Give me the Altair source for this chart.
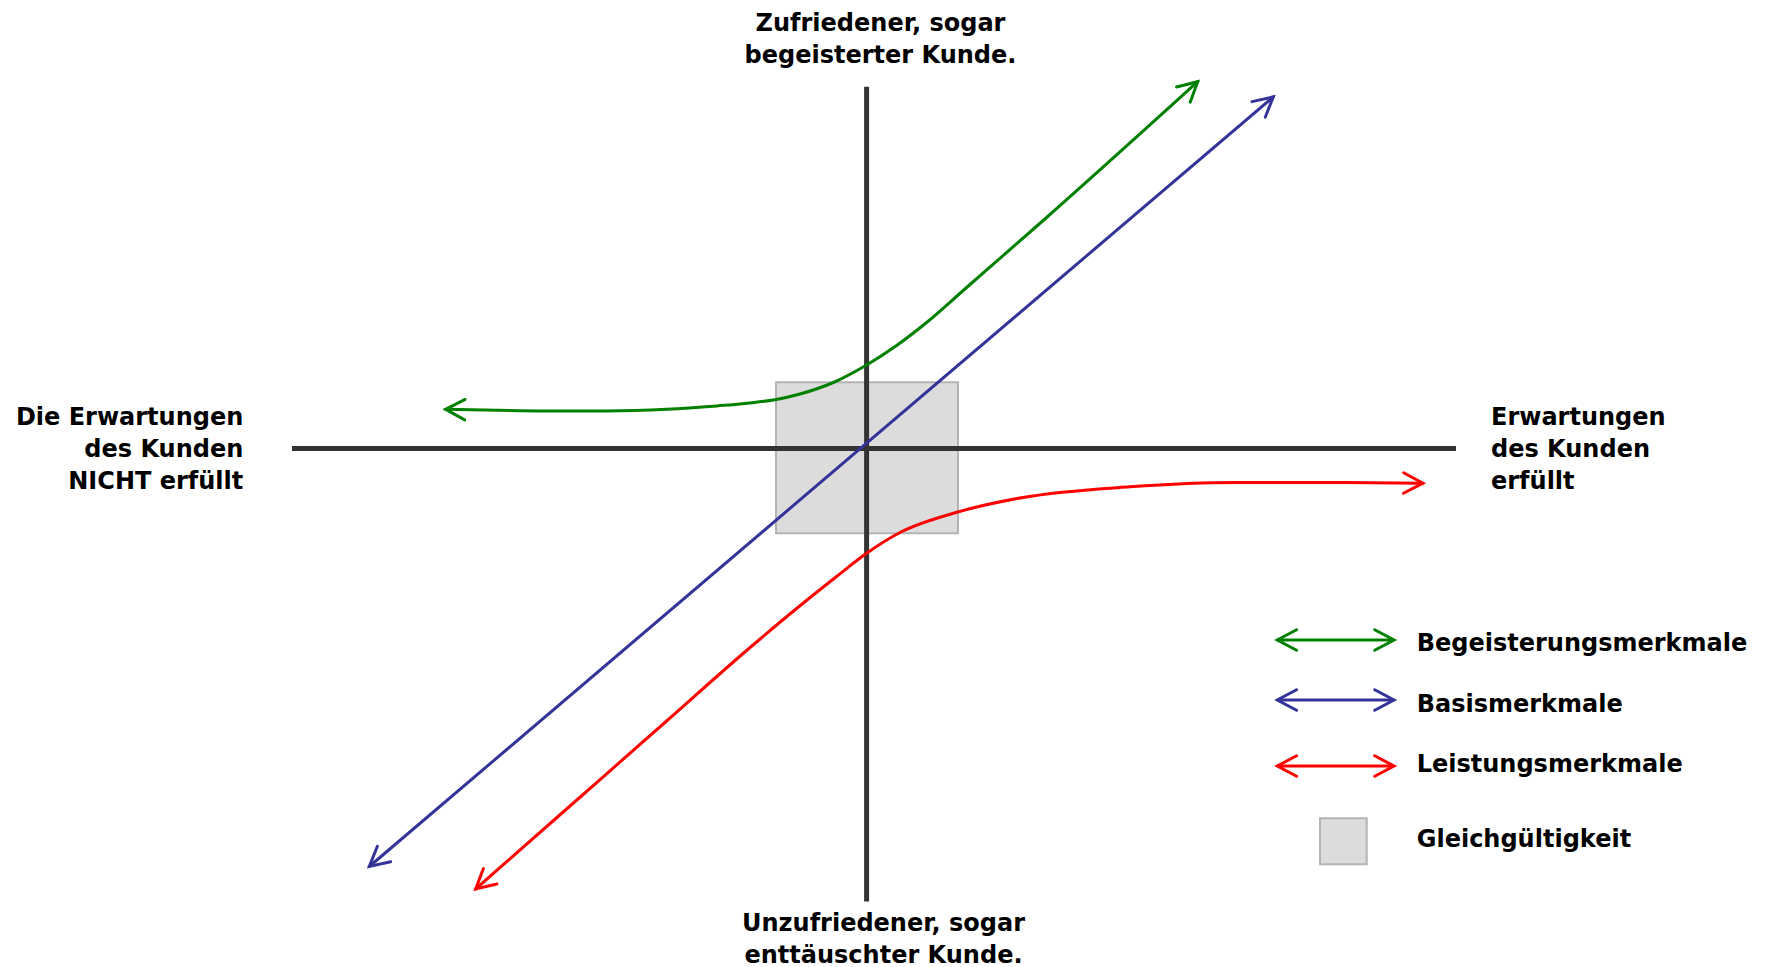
import math
import altair as alt
import pandas as pd

# ---------------- data (units: distance from the axis crossing) ----------------
series = ["Begeisterungsmerkmale", "Basismerkmale", "Leistungsmerkmale"]
series_colors = ["#008000", "#333399", "#ff0000"]

green_x = [-421.0, -380.0, -320.0, -260.0, -200.0, -150.0, -116.6, -91.6, -66.6, -33.3, 0.0, 30.0, 60.0, 100.0, 180.0, 331.1]
green_y = [39.2, 38.4, 37.6, 37.6, 39.2, 42.6, 45.6, 48.8, 54.5, 66.0, 83.5, 103.0, 126.0, 161.0, 231.0, 366.8]

blue_x = [-497.3, 406.7]
blue_y = [-418.0, 351.6]

red_x = [-390.9, -300.0, -200.0, -120.0, -70.0, -30.0, 0.0, 33.4, 92.0, 156.3, 263.4, 370.5, 477.7, 556.3]
red_y = [-440.5, -360.5, -272.5, -202.0, -160.0, -128.0, -104.8, -84.0, -63.3, -49.0, -38.3, -34.0, -34.0, -34.7]

# axes (cross) and indifference zone
axis_x = [-574.6, 0.0]
axis_y = [0.0, 361.7]
axis_x2 = [589.4, 0.0]
axis_y2 = [0.0, -453.0]
zone_x = [-90.6, 91.4]
zone_y = [66.2, -84.8]

label_top = "Zufriedener, sogar\nbegeisterter Kunde."
label_bottom = "Unzufriedener, sogar\nenttäuschter Kunde."
label_left = "Die Erwartungen\ndes Kunden\nNICHT erfüllt"
label_right = "Erwartungen\ndes Kunden\nerfüllt"
legend_zone_label = "Gleichgültigkeit"

# ---------------- layout ----------------
W, H = 1751, 959
CX, CY = 858.6, 440.5
xs = alt.Scale(domain=[-CX, W - CX], nice=False, zero=False)
ys = alt.Scale(domain=[-(H - CY), CY], nice=False, zero=False)
FONT = "DejaVu Sans"
FS = 24
LH = 32
CHEVRON = "M -1 -0.53 L 0 0 L -1 0.53"
HEAD_SIZE = 1490

POS = {
    "top": (13.9, 417.2),
    "bottom": (16.9, -482.0),
    "left": (-623.3, 23.5),
    "right": (624.4, 23.5),
}
LEG_X0, LEG_X1, LEG_TX = 410.7, 527.4, 550.1
LEG_ROWS = [-191.5, -251.5, -317.5]
LEG_TEXT = [-202.2, -263.2, -323.2]
LEG_SQ = (453.4, 500.1, -369.8, -415.8)
LEG_SQ_TEXT = -398.8

# ---------------- tables ----------------
curve_data = [(series[0], green_x, green_y), (series[1], blue_x, blue_y), (series[2], red_x, red_y)]
rows = []
heads = []


def ang(x0, y0, x1, y1):
    return math.degrees(math.atan2(-(y1 - y0), x1 - x0)) % 360


for name, xv, yv in curve_data:
    for i, (a, b) in enumerate(zip(xv, yv)):
        rows.append({"series": name, "order": i, "x": a, "y": b})
    heads.append({"series": name, "x": xv[0], "y": yv[0], "angle": ang(xv[1], yv[1], xv[0], yv[0])})
    heads.append({"series": name, "x": xv[-1], "y": yv[-1], "angle": ang(xv[-2], yv[-2], xv[-1], yv[-1])})

curves = pd.DataFrame(rows)

leg_rows = []
for name, ry, ty in zip(series, LEG_ROWS, LEG_TEXT):
    leg_rows.append({"series": name, "x": LEG_X0, "x2": LEG_X1, "y": ry})
    heads.append({"series": name, "x": LEG_X0, "y": ry, "angle": 180.0})
    heads.append({"series": name, "x": LEG_X1, "y": ry, "angle": 0.0})
legend_df = pd.DataFrame(leg_rows)
heads_df = pd.DataFrame(heads)

axes_df = pd.DataFrame({"x": axis_x, "y": axis_y, "x2": axis_x2, "y2": axis_y2})
zone_df = pd.DataFrame({
    "x": [zone_x[0], LEG_SQ[0]], "x2": [zone_x[1], LEG_SQ[1]],
    "y": [zone_y[0], LEG_SQ[2]], "y2": [zone_y[1], LEG_SQ[3]],
})

center_txt = pd.DataFrame({
    "t": [label_top, label_bottom],
    "x": [POS["top"][0], POS["bottom"][0]],
    "y": [POS["top"][1], POS["bottom"][1]],
})
right_txt = pd.DataFrame({"t": [label_left], "x": [POS["left"][0]], "y": [POS["left"][1]]})
left_txt = pd.DataFrame({
    "t": [label_right] + series + [legend_zone_label],
    "x": [POS["right"][0]] + [LEG_TX] * 3 + [LEG_TX],
    "y": [POS["right"][1]] + LEG_TEXT + [LEG_SQ_TEXT],
})

color = alt.Color("series:N", scale=alt.Scale(domain=series, range=series_colors), legend=None)
X = lambda f="x": alt.X(f"{f}:Q", scale=xs, axis=None)
Y = lambda f="y": alt.Y(f"{f}:Q", scale=ys, axis=None)

zone = alt.Chart(zone_df).mark_rect(fill="#dcdcdc", stroke="#b4b4b4", strokeWidth=2).encode(
    x=X(), x2="x2:Q", y=Y(), y2="y2:Q")

axes = alt.Chart(axes_df).mark_rule(color="#333333", strokeWidth=5).encode(
    x=X(), x2="x2:Q", y=Y(), y2="y2:Q")

lines = alt.Chart(curves).mark_line(interpolate="monotone", strokeWidth=3, strokeCap="round").encode(
    x=X(), y=Y(), color=color, order="order:Q", detail="series:N")

leg_lines = alt.Chart(legend_df).mark_rule(strokeWidth=3).encode(
    x=X(), x2="x2:Q", y=Y(), color=color)

arrowheads = alt.Chart(heads_df).mark_point(
    shape=CHEVRON, size=HEAD_SIZE, filled=False, strokeWidth=3, opacity=1,
    strokeCap="round", strokeJoin="miter").encode(
    x=X(), y=Y(), color=color, angle=alt.Angle("angle:Q", scale=None))

tprops = dict(font=FONT, fontSize=FS, fontWeight="bold", lineHeight=LH, lineBreak="\n",
              color="#000000", baseline="alphabetic")
t_center = alt.Chart(center_txt).mark_text(align="center", **tprops).encode(x=X(), y=Y(), text="t:N")
t_right = alt.Chart(right_txt).mark_text(align="right", **tprops).encode(x=X(), y=Y(), text="t:N")
t_left = alt.Chart(left_txt).mark_text(align="left", **tprops).encode(x=X(), y=Y(), text="t:N")

chart = alt.layer(zone, axes, lines, leg_lines, arrowheads, t_center, t_right, t_left).properties(
    width=W, height=H, padding=0, autosize=alt.AutoSizeParams(type="none"),
    background="#ffffff",
).configure_view(stroke=None)

chart.save("out.html", embed_options={"renderer": "svg", "actions": False})
